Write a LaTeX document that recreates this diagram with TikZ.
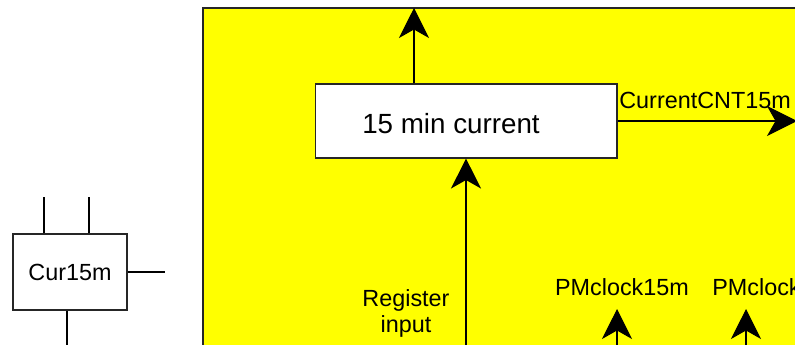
\documentclass[tikz,border=0pt]{standalone}
\usepackage{fontspec}
\setmainfont{Liberation Sans}
\usetikzlibrary{arrows.meta}
\definecolor{pmyellow}{RGB}{255,255,0}
\tikzstyle{blockbox} = [draw=black!85, line width=0.6pt, rectangle, fill=white, inner sep=0pt]
\tikzstyle{sig} = [draw=black, line width=0.6pt, -{Stealth[length=0.6cm, width=0.6cm, inset=0.17cm]}]
\tikzstyle{wire} = [draw=black, line width=0.6pt]
\tikzstyle{lbl} = [inner sep=0pt, font=\fontsize{13.3}{14.8}\selectfont]

\begin{document}
\begin{tikzpicture}[x=0.02cm, y=-0.02cm]
    \clip (0,0) rectangle (795,345);
    % module area
    \fill[pmyellow] (203,8) rectangle (820,360);
    \draw[wire, draw=black!85] (203,360) -- (203,8) -- (820,8);

    % small symbol
    \node [blockbox, minimum width=2.28cm, minimum height=1.52cm] (sym) at (70,272) {};
    \node [lbl] (symtxt) at (70,272) {Cur15m};
    \coordinate (symA) at (44,197);
    \coordinate (symB) at (89,197);
    \coordinate (symR) at (165,272);
    \coordinate (symD) at (67,350);
    \draw[wire] (sym.north -| symA) -- (symA);
    \draw[wire] (sym.north -| symB) -- (symB);
    \draw[wire] (sym.east) -- (symR);
    \draw[wire] (sym.south -| symD) -- (symD);

    % counter block
    \node [blockbox, minimum width=6.04cm, minimum height=1.48cm] (cur15) at (466,121) {};
    \node [inner sep=0pt, font=\fontsize{15.8}{18}\selectfont] (curtxt) at (451,124) {15 min current};

    \coordinate (up) at (414,8);
    \coordinate (cnt) at (797,121);
    \coordinate (regin) at (466,350);
    \coordinate (clkA) at (617,350);
    \coordinate (clkAtip) at (617,309);
    \coordinate (clkB) at (746,350);
    \coordinate (clkBtip) at (746,309);

    \draw[sig] (cur15.north -| up) -- (up);
    \draw[sig] (cur15.east) -- (cnt);
    \draw[sig] (regin) -- (cur15.south);
    \draw[sig] (clkA) -- (clkAtip);
    \draw[sig] (clkB) -- (clkBtip);

    % labels
    \node [lbl, anchor=base west] (cntlbl) at (619,108) {CurrentCNT15m};
    \node [lbl, align=center] (reglbl) at (406,313) {Register\\input};
    \node [lbl, anchor=base] (clkAlbl) at (622,295) {PMclock15m};
    \node [lbl, anchor=base west] (clkBlbl) at (712,295) {PMclock};
\end{tikzpicture}
\end{document}
